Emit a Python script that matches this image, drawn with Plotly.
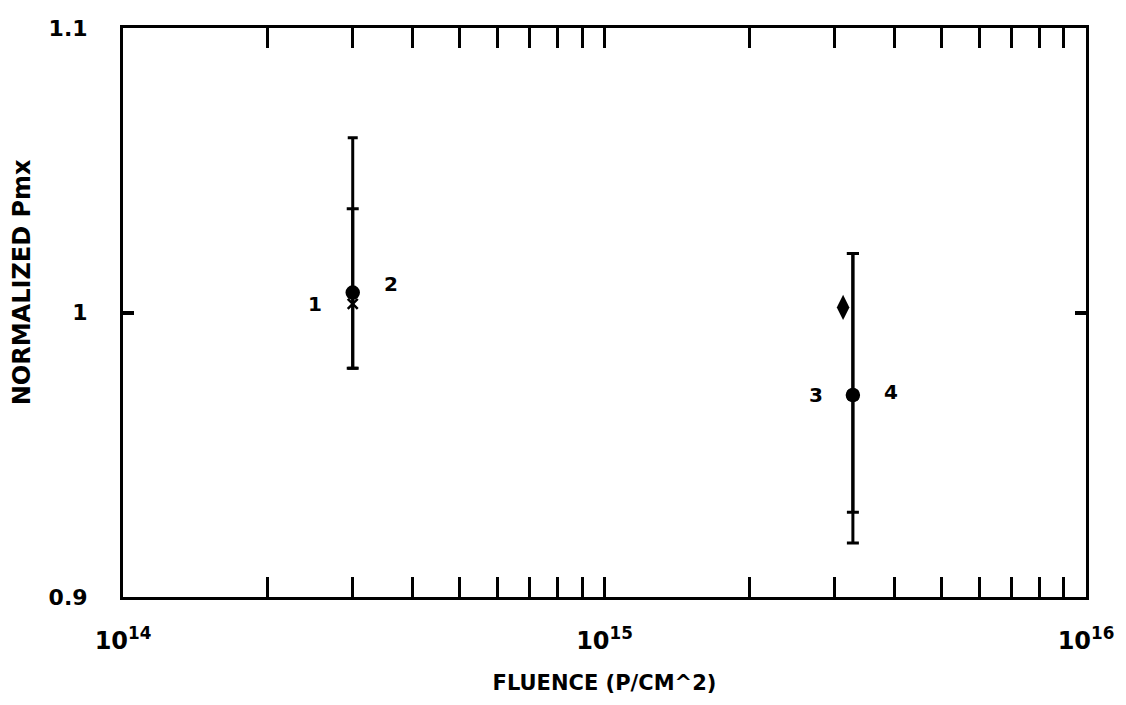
import math
import plotly.graph_objects as go

# Data
fluence_low = 3.0e14
fluence_high = 3.28e15
fluence_diamond = 3.13e15

s1_y, s1_hi, s1_lo = 1.003, 1.0614, 0.9804   # marker "1" (x)
s2_y, s2_hi, s2_lo = 1.007, 1.0365, 0.9804   # marker "2" (circle)
s3_y, s3_hi, s3_lo = 0.971, 1.0207, 0.9190   # marker "3" (x)
s4_y, s4_hi, s4_lo = 0.971, 1.0207, 0.9298   # marker "4" (circle)
diamond_y = 1.0018

labels = ["1", "2", "3", "4"]
x_tick_vals = [1e14, 1e15, 1e16]
x_tick_text = ["10<sup>14</sup>", "10<sup>15</sup>", "10<sup>16</sup>"]
y_tick_vals = [0.9, 1.0, 1.1]
y_tick_text = ["0.9", "1", "1.1"]

FONT = "DejaVu Sans"
fig = go.Figure()

def add_series(x, y, hi, lo, symbol, size, capw):
    fig.add_trace(go.Scatter(
        x=[x], y=[y], mode="markers",
        marker=dict(symbol=symbol, size=size, color="black",
                    line=dict(color="black", width=2.5)),
        error_y=dict(type="data", symmetric=False, array=[hi - y], arrayminus=[y - lo],
                     color="black", thickness=3, width=capw),
        showlegend=False, hoverinfo="skip"))

add_series(fluence_low, s1_y, s1_hi, s1_lo, "x-thin", 10, 5)
add_series(fluence_low, s2_y, s2_hi, s2_lo, "circle", 12, 6)
add_series(fluence_high, s3_y, s3_hi, s3_lo, "x-thin", 10, 6)
add_series(fluence_high, s4_y, s4_hi, s4_lo, "circle", 12, 6)

fig.add_trace(go.Scatter(
    x=[fluence_diamond], y=[diamond_y], mode="markers",
    marker=dict(symbol="diamond-tall", size=18, color="black"),
    showlegend=False, hoverinfo="skip"))

# point labels (annotations on a log axis use log10 coordinates)
lab_pos = [(fluence_low, s1_y, -38), (fluence_low, s2_y + 0.003, 38),
           (fluence_high, s3_y, -37), (fluence_high, s4_y + 0.001, 38)]
for t, (x, y, dx) in zip(labels, lab_pos):
    fig.add_annotation(x=math.log10(x), y=y, xref="x", yref="y", text=t, showarrow=False,
                       xshift=dx, font=dict(family=FONT, size=20, color="black", weight="bold"))

minor_vals = [m * 10 ** e for e in (14, 15) for m in range(2, 10)]

fig.update_xaxes(
    type="log", range=[14, 16], automargin=False,
    tickvals=x_tick_vals, ticktext=x_tick_text,
    ticks="inside", ticklen=20, tickwidth=3, tickcolor="black",
    minor=dict(tickvals=minor_vals, ticks="inside", ticklen=20, tickwidth=3, tickcolor="black"),
    showline=True, linecolor="black", linewidth=3, mirror="allticks",
    showgrid=False, zeroline=False, ticklabelstandoff=20,
    tickfont=dict(family=FONT, size=24, color="black", weight="bold"),
    title=dict(text="FLUENCE (P/CM^2)", standoff=22,
               font=dict(family=FONT, size=21, color="black", weight="bold")),
)
fig.update_yaxes(
    range=[0.9, 1.1], automargin=False,
    tickvals=y_tick_vals, ticktext=y_tick_text,
    ticks="inside", ticklen=11, tickwidth=4, tickcolor="black",
    showline=True, linecolor="black", linewidth=3, mirror="allticks",
    showgrid=False, zeroline=False, ticklabelstandoff=28,
    tickfont=dict(family=FONT, size=22, color="black", weight="bold"),
)

fig.add_annotation(x=-0.105, y=0.553, xref="paper", yref="paper", xanchor="center",
                   text="NORMALIZED Pmx", textangle=-90, showarrow=False,
                   font=dict(family=FONT, size=24, color="black", weight="bold"))

fig.update_layout(
    width=1126, height=705,
    margin=dict(l=115, r=48, t=20, b=116),
    plot_bgcolor="white", paper_bgcolor="white",
)

fig.write_html("out.html")
